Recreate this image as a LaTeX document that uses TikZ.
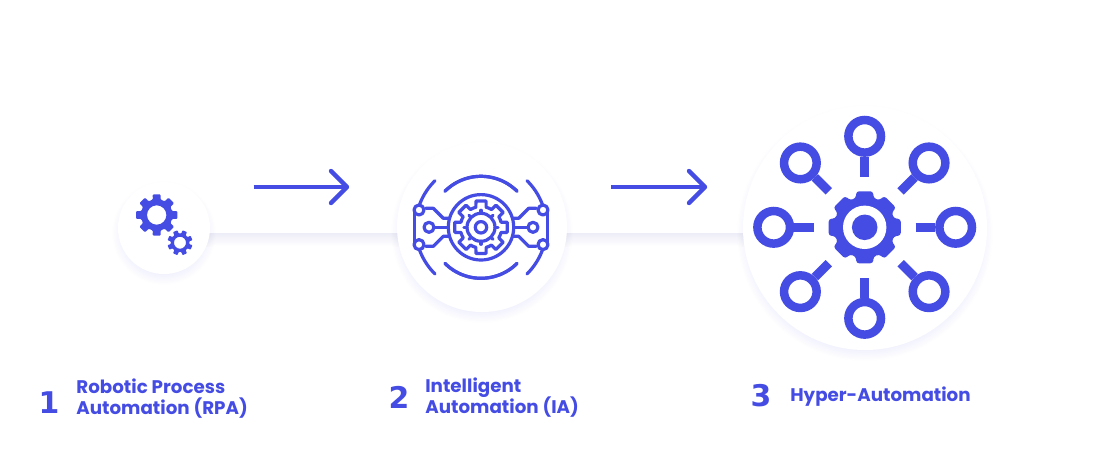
\documentclass[tikz,border=0pt]{standalone}
\usepackage{fontspec}
\setmainfont{Poppins}
\newfontfamily\numfont{DejaVu Sans}
\usetikzlibrary{positioning}
\AtBeginDocument{\lineskiplimit=-20pt\relax}
\definecolor{autoblue}{HTML}{444CE3}
\definecolor{bandgrey}{HTML}{EDEDF7}
\tikzset{
    disc/.style={circle, fill=white, inner sep=0pt, minimum size=#1},
    iconline/.style={draw=autoblue, line width=3.2*0.02cm, line cap=round, line join=round},
    stem/.style={draw=autoblue, line width=9*0.02cm},
    ringdot/.style={circle, draw=autoblue, line width=8.5*0.02cm, fill=white, inner sep=0pt, minimum size=32.6*0.02cm},
    flowarrow/.style={draw=autoblue, line width=4.4*0.02cm, line join=round},
    numlabel/.style={text=autoblue, font=\numfont\bfseries\fontsize{17}{17}\selectfont, inner sep=0pt},
    steplabel/.style={text=autoblue, font=\bfseries\fontsize{10.4}{12.3}\selectfont, align=left, inner sep=0pt, anchor=west}
}
% soft shadow under a disc
\newcommand{\softshadow}[3]{
    \foreach \k in {1,...,10} {
        \fill[autoblue, opacity=0.006] (#1,#2+5) circle ({#3+7-1.2*\k});
    }
}
% gear outline into \gearpath: centre x, y, body radius, tip radius, half tooth angle, teeth, start angle
\newcommand{\makegear}[7]{
    \pgfmathsetmacro{\stepang}{360/#6}
    \pgfmathtruncatemacro{\lastang}{#6-1}
    \gdef\gearpath{}
    \foreach \n in {0,...,\lastang} {
        \pgfmathsetmacro{\ang}{#7+\n*\stepang}
        \pgfmathsetmacro{\xa}{#1+#3*cos(\ang-#5*1.3)}
        \pgfmathsetmacro{\ya}{#2+#3*sin(\ang-#5*1.3)}
        \pgfmathsetmacro{\xb}{#1+#4*cos(\ang-#5)}
        \pgfmathsetmacro{\yb}{#2+#4*sin(\ang-#5)}
        \pgfmathsetmacro{\xc}{#1+#4*cos(\ang+#5)}
        \pgfmathsetmacro{\yc}{#2+#4*sin(\ang+#5)}
        \pgfmathsetmacro{\xd}{#1+#3*cos(\ang+#5*1.3)}
        \pgfmathsetmacro{\yd}{#2+#3*sin(\ang+#5*1.3)}
        \pgfmathsetmacro{\xe}{#1+#3*cos(\ang+\stepang/2)}
        \pgfmathsetmacro{\ye}{#2+#3*sin(\ang+\stepang/2)}
        \xdef\gearpath{\gearpath (\xa,\ya) -- (\xb,\yb) -- (\xc,\yc) -- (\xd,\yd) -- (\xe,\ye) -- }
    }
}
\begin{document}
\begin{tikzpicture}[x=0.02cm, y=-0.02cm]
    \useasboundingbox (0,0) rectangle (1093,471);

    % bands behind the discs
    \coordinate (bandA) at (164,233);
    \coordinate (bandB) at (865,246);
    \shade[top color=bandgrey, bottom color=white] (bandA) rectangle (bandB);

    \softshadow{164}{228}{46}
    \softshadow{482}{227}{85}
    \softshadow{865}{228}{122}
    \node[disc=92*0.02cm] (rpa) at (164,228) {};
    \node[disc=170*0.02cm] (ia) at (482,227) {};
    \node[disc=244*0.02cm] (hyper) at (865,228) {};

    % small gears
    \makegear{156.7}{215}{15.8}{21}{11}{8}{0}
    \fill[autoblue, rounded corners=0.6pt, even odd rule] \gearpath cycle (156.7,215) circle (9.7);
    \makegear{180}{242.7}{9.3}{12.7}{11}{8}{22.5}
    \fill[autoblue, rounded corners=0.4pt, even odd rule] \gearpath cycle (180,242.7) circle (6);

    % middle icon
    \draw[iconline] (481,227.3) circle (32.7);
    \makegear{481}{227.3}{20.7}{26.7}{11}{8}{0}
    \draw[iconline] \gearpath cycle;
    \draw[iconline] (481,227.3) circle (14);
    \draw[iconline] (481,227.3) circle (5.7);
    \begin{scope}[shift={(481,227.3)}]
        \foreach \a in {0,45,...,315} {
            \coordinate (tickIn\a) at (\a:14);
            \coordinate (tickOut\a) at (\a:17);
            \draw[iconline] (tickIn\a) -- (tickOut\a);
        }
    \end{scope}
    \foreach \s in {1,-1} {
        \begin{scope}[shift={(481,227.3)}, xscale=\s]
            \draw[iconline] plot[domain=45:135, samples=40] (\x:51);
            \draw[iconline] plot[domain=-45:-135, samples=40] (\x:51);
            \draw[iconline] plot[domain=45.4:20, samples=20] (\x:65.5);
            \draw[iconline] plot[domain=-45.4:-20, samples=20] (\x:65.5);
            \draw[iconline] (66.7,-15) -- (66.7,15);
            \draw[iconline] (55.3,-19) -- (47.7,-19) -- (37.7,-9) -- (32,-9);
            \draw[iconline] (55.3,19) -- (47.7,19) -- (37.7,9) -- (32,9);
            \draw[iconline] (32.7,0) -- (47,0);
            \draw[iconline, fill=white] (62,-17.3) circle (5);
            \draw[iconline, fill=white] (62,17.3) circle (5);
            \draw[iconline, fill=white] (52,0) circle (5);
        \end{scope}
    }

    % large icon
    \makegear{864.7}{227.3}{30.5}{37}{13}{8}{0}
    \fill[autoblue, rounded corners=1.6pt] \gearpath cycle;
    \fill[white] (864.7,227.3) circle (21.7);
    \fill[autoblue] (864.7,227.3) circle (12.8);
    \begin{scope}[shift={(864.7,227.3)}]
        \foreach \a in {0,45,...,315} {
            \coordinate (spokeIn\a) at (\a:50.8);
            \node[ringdot] (sat\a) at (\a:91) {};
            \draw[stem] (spokeIn\a) -- (sat\a);
        }
    \end{scope}

    % arrows
    \coordinate (arrowAstart) at (253.5,187);
    \coordinate (arrowAend) at (347,187);
    \draw[flowarrow] (arrowAstart) -- (arrowAend);
    \draw[flowarrow, line cap=round] (331,171) -- (arrowAend) -- (331,203);
    \coordinate (arrowBstart) at (611,187);
    \coordinate (arrowBend) at (705,187);
    \draw[flowarrow] (arrowBstart) -- (arrowBend);
    \draw[flowarrow, line cap=round] (689,171) -- (arrowBend) -- (689,203);

    % labels
    \node[numlabel] (numA) at (49,402.5) {1};
    \node[steplabel] (textA) at (76,398.5) {Robotic Process\\Automation (RPA)};
    \node[numlabel] (numB) at (399,397) {2};
    \node[steplabel] (textB) at (425,397.5) {Intelligent\\Automation (IA)};
    \node[numlabel] (numC) at (761,396) {3};
    \node[steplabel] (textC) at (790,397) {Hyper-Automation};
\end{tikzpicture}
\end{document}
